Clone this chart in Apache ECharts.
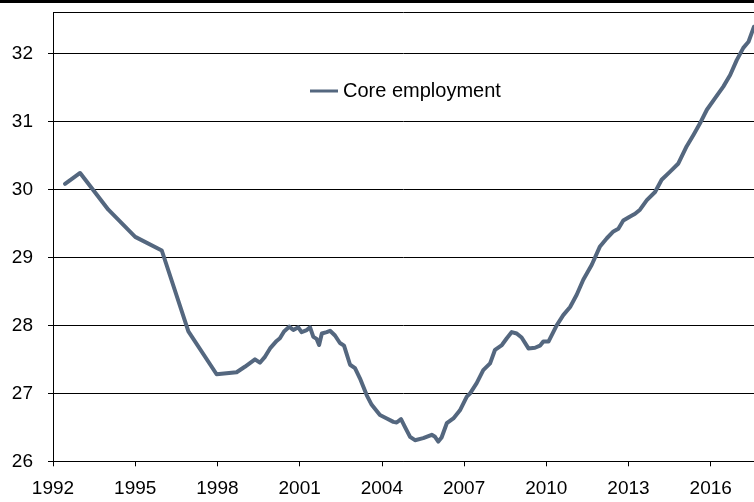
<!DOCTYPE html>
<html>
<head>
<meta charset="utf-8">
<script src="https://cdn.jsdelivr.net/npm/echarts@6/dist/echarts.min.js"></script>
<style>
html,body{margin:0;padding:0;background:#fff;}
#chart{width:754px;height:502px;}
</style>
</head>
<body>
<div id="chart"></div>
<script>
const seriesName = 'Core employment';
const years = [
  1992.44, 1992.99, 1994.02, 1995.00, 1995.97, 1996.94, 1997.97, 1998.70,
  1999.00, 1999.37, 1999.55, 1999.74, 1999.92, 2000.16, 2000.28, 2000.43,
  2000.62, 2000.77, 2000.95, 2001.07, 2001.26, 2001.38, 2001.50, 2001.62,
  2001.71, 2001.81, 2001.99, 2002.11, 2002.29, 2002.47, 2002.62, 2002.84,
  2003.02, 2003.20, 2003.45, 2003.63, 2003.93, 2004.18, 2004.42, 2004.54,
  2004.70, 2004.85, 2005.03, 2005.21, 2005.51, 2005.82, 2005.94, 2006.06,
  2006.18, 2006.37, 2006.61, 2006.85, 2007.10, 2007.22, 2007.46, 2007.70,
  2007.95, 2008.13, 2008.38, 2008.56, 2008.74, 2008.92, 2009.10, 2009.35,
  2009.59, 2009.77, 2009.89, 2010.08, 2010.38, 2010.62, 2010.87, 2011.11,
  2011.35, 2011.66, 2011.96, 2012.21, 2012.45, 2012.63, 2012.81, 2013.06,
  2013.24, 2013.42, 2013.67, 2013.97, 2014.21, 2014.52, 2014.82, 2015.12,
  2015.37, 2015.61, 2015.86, 2016.16, 2016.46, 2016.71, 2016.95, 2017.19,
  2017.38, 2017.58
];
const values = [
  30.08, 30.24, 29.70, 29.30, 29.10, 27.91, 27.28, 27.31,
  27.39, 27.50, 27.45, 27.54, 27.66, 27.77, 27.81, 27.91,
  27.98, 27.93, 27.97, 27.90, 27.93, 27.97, 27.83, 27.80,
  27.71, 27.88, 27.90, 27.92, 27.85, 27.74, 27.70, 27.42,
  27.37, 27.22, 26.97, 26.83, 26.68, 26.63, 26.58, 26.57,
  26.62, 26.50, 26.36, 26.31, 26.34, 26.39, 26.36, 26.29,
  26.35, 26.56, 26.63, 26.75, 26.95, 27.00, 27.15, 27.34,
  27.44, 27.64, 27.71, 27.81, 27.90, 27.88, 27.82, 27.66,
  27.67, 27.70, 27.76, 27.76, 28.00, 28.15, 28.27, 28.45,
  28.67, 28.89, 29.16, 29.28, 29.38, 29.42, 29.54, 29.60,
  29.64, 29.70, 29.84, 29.96, 30.14, 30.26, 30.38, 30.63,
  30.80, 30.97, 31.17, 31.34, 31.51, 31.68, 31.90, 32.08,
  32.17, 32.39
];
const xTickLabels = [1992, 1995, 1998, 2001, 2004, 2007, 2010, 2013, 2016];
const yTickLabels = [26, 27, 28, 29, 30, 31, 32];

const data = years.map((y, i) => [y, values[i]]);
const font = '"Liberation Sans", Arial, sans-serif';

const chart = echarts.init(document.getElementById('chart'));
chart.setOption({
  animation: false,
  backgroundColor: '#fff',
  grid: { left: 53, right: 0, top: 12.5, bottom: 40.7, containLabel: false },
  graphic: [{
    type: 'rect', left: 0, top: 0,
    shape: { width: 754, height: 3 },
    style: { fill: '#000' }
  }],
  legend: {
    data: [seriesName],
    left: 310, top: 81,
    padding: 0,
    itemWidth: 28, itemHeight: 20,
    icon: 'path://M0,0 L28,0 L28,3 L0,3 Z',
    textStyle: { fontFamily: font, fontSize: 20, color: '#000' }
  },
  xAxis: {
    type: 'value',
    min: 1992, max: 2017.58, interval: 3,
    axisLine: { show: true, lineStyle: { color: '#000', width: 1 } },
    axisTick: { show: true, length: 5, lineStyle: { color: '#000' } },
    splitLine: { show: false },
    axisLabel: {
      margin: 18, color: '#000', fontFamily: font, fontSize: 19,
      showMaxLabel: false,
      formatter: v => xTickLabels.indexOf(Math.round(v)) >= 0 && Math.abs(v - Math.round(v)) < 1e-6 ? String(Math.round(v)) : ''
    }
  },
  yAxis: {
    type: 'value',
    min: 26, max: 32.6, interval: 1,
    axisLine: { show: true, lineStyle: { color: '#000', width: 1 } },
    axisTick: { show: true, length: 5, lineStyle: { color: '#000' } },
    splitLine: { show: true, lineStyle: { color: '#000', width: 1 } },
    axisLabel: {
      margin: 20, color: '#000', fontFamily: font, fontSize: 19,
      showMaxLabel: false,
      formatter: v => yTickLabels.indexOf(Math.round(v)) >= 0 && Math.abs(v - Math.round(v)) < 1e-6 ? String(Math.round(v)) : ''
    }
  },
  series: [{
    name: seriesName,
    type: 'line',
    data: data,
    symbol: 'none',
    showSymbol: false,
    lineStyle: { color: '#54677f', width: 4, join: 'round', cap: 'round' },
    itemStyle: { color: '#54677f' }
  }]
});
</script>
</body>
</html>
